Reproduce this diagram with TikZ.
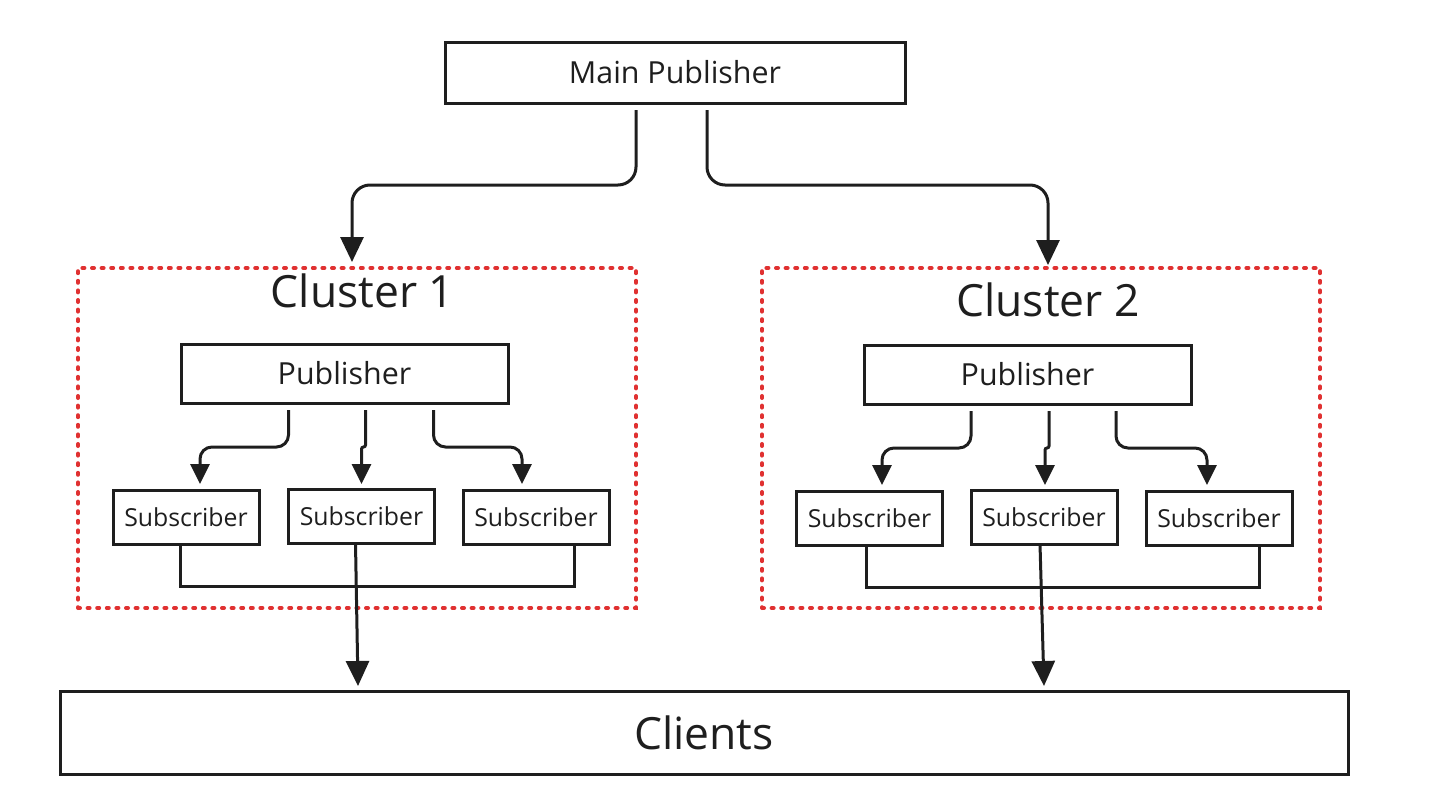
\documentclass[tikz,border=0pt]{standalone}
\usepackage{fontspec}
\setmainfont{Open Sans}
\usepackage{xcolor}
\usepackage{tikz}
\usetikzlibrary{arrows.meta}
\usetikzlibrary{calc}
\definecolor{ink}{HTML}{1E1E1E}
\definecolor{dotred}{HTML}{E03131}
\tikzstyle{box}=[draw=ink,text=ink,line width=1.5pt,inner sep=0pt,outer sep=0pt]
\tikzstyle{mainbox}=[box,minimum width=230pt,minimum height=30.5pt,font=\fontsize{15.2}{18}\selectfont]
\tikzstyle{pubbox}=[box,minimum width=163.5pt,minimum height=29.5pt,font=\fontsize{15.2}{18}\selectfont]
\tikzstyle{subbox}=[box,minimum width=73pt,minimum height=27pt,font=\fontsize{12.4}{15}\selectfont]
\tikzstyle{clientbox}=[box,minimum width=644pt,minimum height=41.5pt,font=\fontsize{22.2}{26}\selectfont]
\tikzstyle{cluster}=[draw=dotred,line width=2pt,line cap=round,dash pattern=on 1pt off 3.8pt,minimum width=279pt,minimum height=170pt,inner sep=0pt,outer sep=0pt]
\tikzstyle{title}=[text=ink,inner sep=0pt,font=\fontsize{22.2}{26}\selectfont]
\tikzstyle{fwhead}=[>/.tip={Triangle[length=12.5pt,width=11.5pt]}]
\tikzstyle{fwshead}=[>/.tip={Triangle[length=10pt,width=9.5pt]}]
\tikzstyle{link}=[draw=ink,line width=1.5pt]
\tikzstyle{fw} =[link,fwhead,->,rounded corners=9pt]
\tikzstyle{fws}=[link,fwshead,->,rounded corners=6pt]
\tikzstyle{fwm}=[link,fwshead,->,rounded corners=1pt]

\begin{document}
\begin{tikzpicture}[x=.5pt,y=-.5pt]
	\useasboundingbox (0,0) rectangle (1430,809);
	\node[mainbox] (main) at (675,72.5) {Main Publisher};
	\node[cluster] (cl1) at (357,438) {};
	\node[cluster] (cl2) at (1041,438) {};
	\node[title] (t1) at (362.5,291) {Cluster 1};
	\node[title] (t2) at (1048,300) {Cluster 2};
	\node[pubbox] (p1) at (344.5,373.5) {Publisher};
	\node[pubbox] (p2) at (1027.5,374.5) {Publisher};
	\node[subbox] (s11) at (186,517) {Subscriber};
	\node[subbox] (s12) at (361.5,516) {Subscriber};
	\node[subbox] (s13) at (536,517) {Subscriber};
	\node[subbox] (s21) at (869.5,518) {Subscriber};
	\node[subbox] (s22) at (1044,517) {Subscriber};
	\node[subbox] (s23) at (1219,518) {Subscriber};
	\node[clientbox] (clients) at (704,732.5) {Clients};
	\draw[fw] ($(main.south)+(-39,7)$) -- ++(0,75) -| ($(cl1.north)+(-5,-6)$);
	\draw[fw] ($(main.south)+(32,7)$) -- ++(0,75) -| ($(cl2.north)+(7,-3)$);
	\draw[fws] ($(p1.south)+(-56,7)$) -- ++(0,37) -| ($(s11.north)+(14,-6)$);
	\draw[fwm] ($(p1.south)+(21,7)$) -- ++(0,37) -| ($(s12.north)+(0,-5)$);
	\draw[fws] ($(p1.south)+(89,7)$) -- ++(0,37) -| ($(s13.north)+(-14,-6)$);
	\draw[fws] ($(p2.south)+(-56.5,7)$) -- ++(0,37) -| ($(s21.north)+(12.5,-6)$);
	\draw[fwm] ($(p2.south)+(21.5,7)$) -- ++(0,37) -| ($(s22.north)+(1,-5)$);
	\draw[fws] ($(p2.south)+(88.5,7)$) -- ++(0,37) -| ($(s23.north)+(-12,-6)$);
	\draw[link] ($(s11.south)+(-6,0)$) |- ($(s13.south)+(38,42)$) -- ($(s13.south)+(38,0)$);
	\draw[link] ($(s21.south)+(-3.5,0)$) |- ($(s23.south)+(40,42)$) -- ($(s23.south)+(40,0)$);
	\draw[fw] ($(s12.south)+(-6,0)$) -- ($(clients.north)+(-346,-5)$);
	\draw[fw] ($(s22.south)+(-4,0)$) -- ($(clients.north)+(340,-5)$);
\end{tikzpicture}
\end{document}
